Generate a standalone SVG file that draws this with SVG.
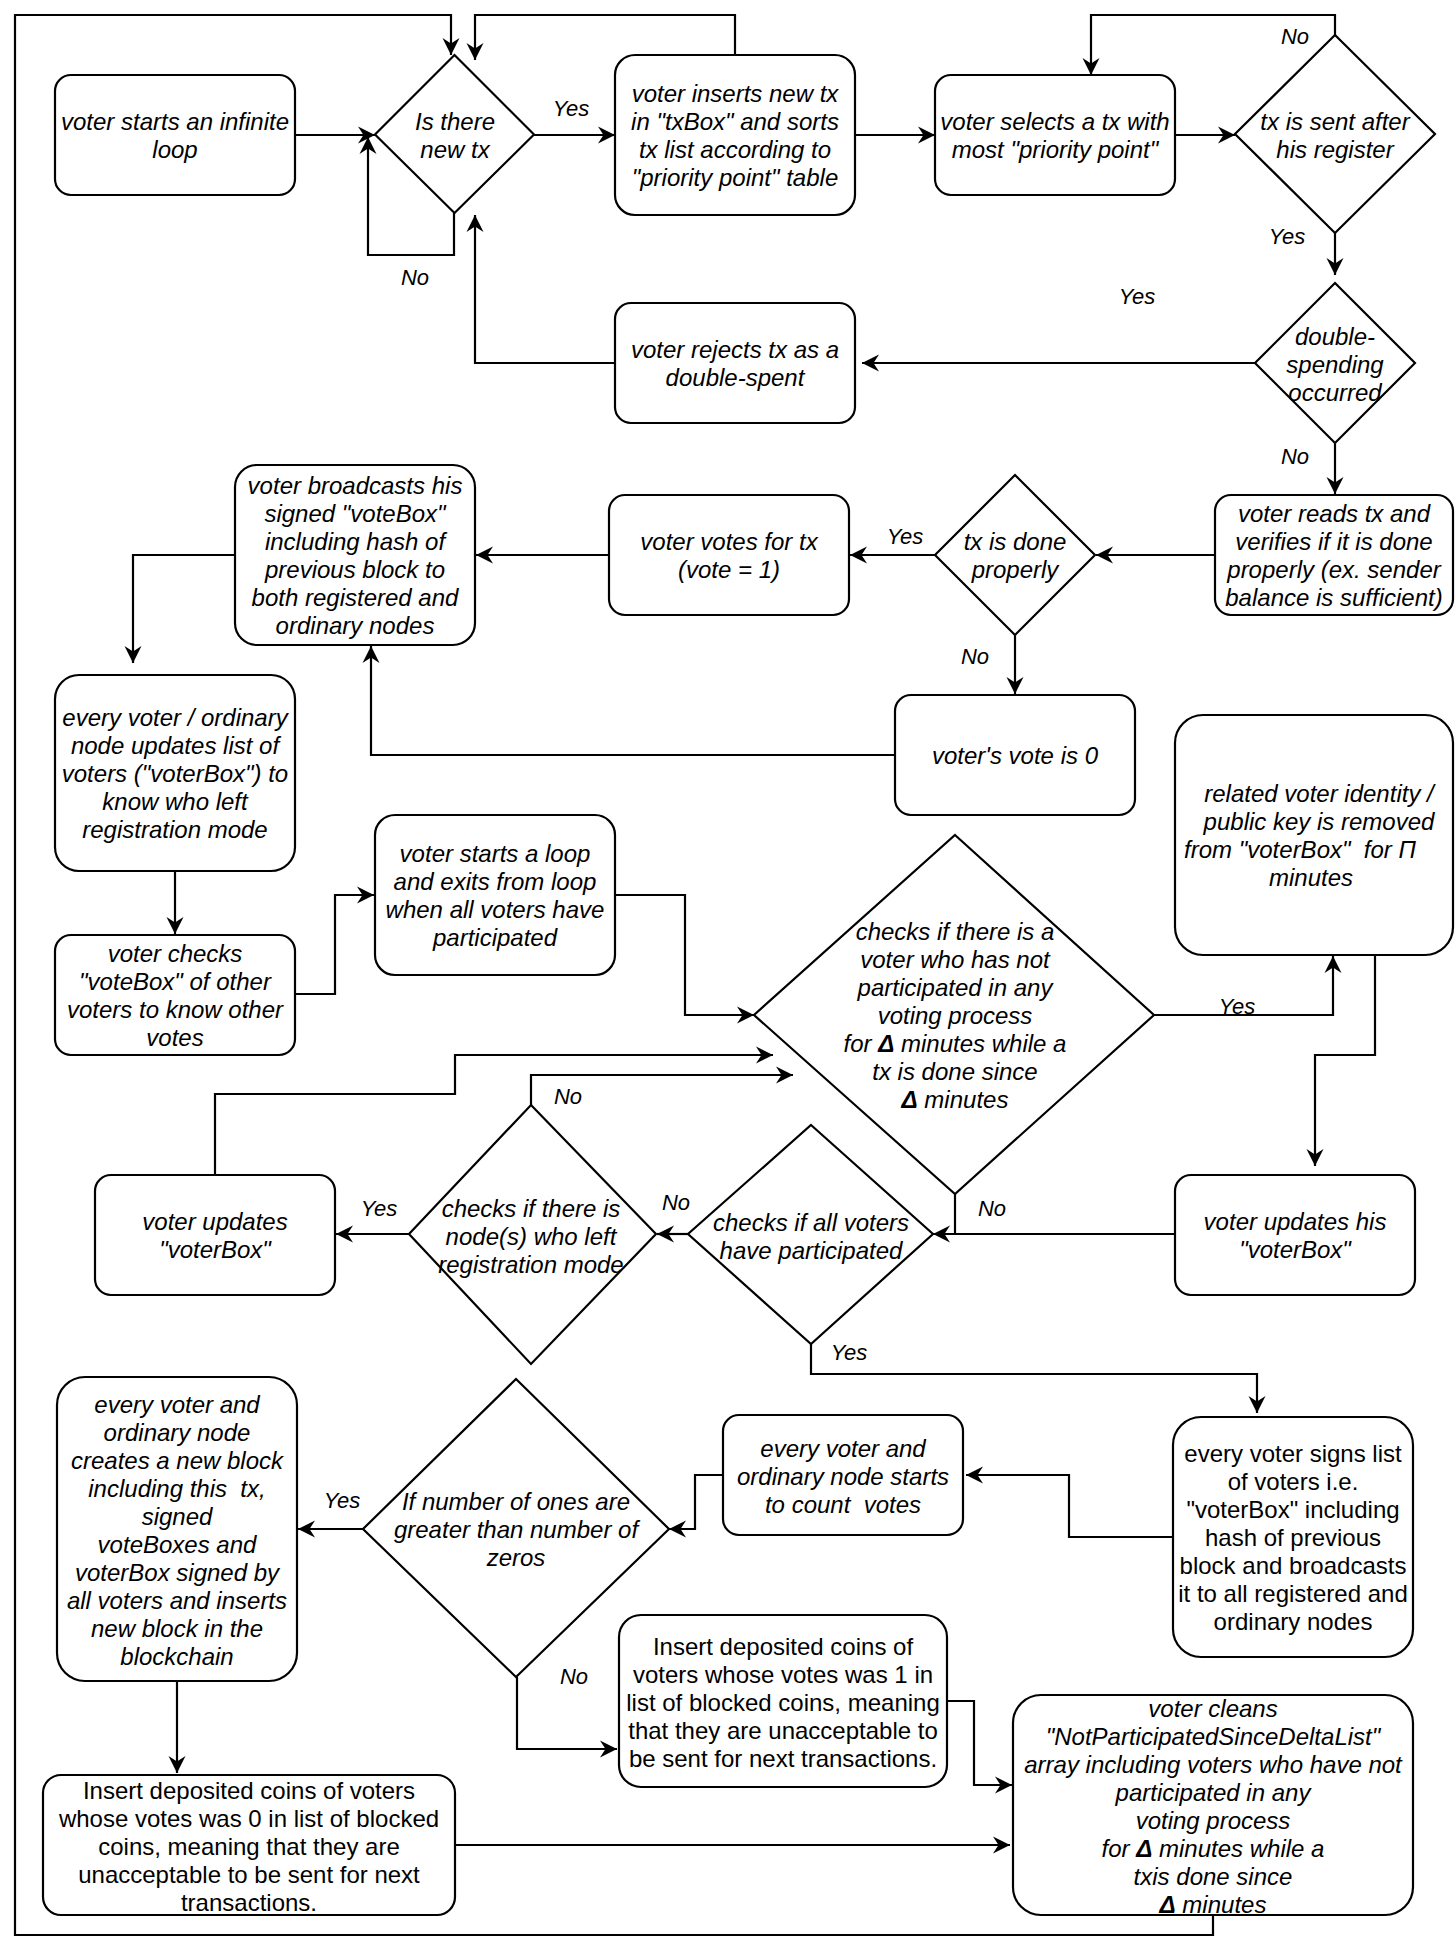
<svg xmlns="http://www.w3.org/2000/svg" width="1456" height="1952" viewBox="0 0 1456 1952">
<defs>
<style>
.b{fill:#fff;stroke:#000;stroke-width:2.2}
.c{fill:none;stroke:#000;stroke-width:2.2;marker-end:url(#arr)}
.p{fill:none;stroke:#000;stroke-width:2.2}
text{font-family:"Liberation Sans",Arial,Helvetica,sans-serif;font-size:24px;font-style:italic;text-anchor:middle;white-space:pre;fill:#000}
.n{font-style:normal}
.l{font-size:22px}
</style>
<marker id="arr" markerUnits="userSpaceOnUse" markerWidth="24" markerHeight="24" viewBox="-19 -12 24 24" refX="0" refY="0" orient="auto" overflow="visible">
<path d="M0,0 L-17,-8.5 L-11.5,0 L-17,8.5 Z" fill="#000"/>
</marker>
</defs>
<rect width="1456" height="1952" fill="#fff"/>

<g id="connectors">
<path class="c" d="M295,135 H375"/>
<path class="c" d="M454,213 V255 H368 V137"/>
<path class="c" d="M534,135 H615"/>
<path class="c" d="M735,55 V15 H475 V60"/>
<path class="c" d="M1213,1915 V1935 H15 V15 H451 V55"/>
<path class="c" d="M855,135 H935"/>
<path class="c" d="M1175,135 H1235"/>
<path class="c" d="M1335,35 V15 H1091 V75"/>
<path class="c" d="M1335,233 V275"/>
<path class="c" d="M1255,363 H862"/>
<path class="c" d="M615,363 H475 V215"/>
<path class="c" d="M1335,443 V494"/>
<path class="c" d="M1215,555 H1096"/>
<path class="c" d="M935,555 H850"/>
<path class="c" d="M1015,634 V694"/>
<path class="c" d="M609,555 H476"/>
<path class="c" d="M895,755 H371 V646"/>
<path class="c" d="M235,555 H133 V663"/>
<path class="c" d="M175,871 V934"/>
<path class="c" d="M295,994 H335 V895 H374"/>
<path class="c" d="M614,895 H685 V1015 H754"/>
<path class="c" d="M1154,1015 H1333 V956"/>
<path class="c" d="M1375,954 V1055 H1315 V1166"/>
<path class="c" d="M1175,1234 H933"/>
<path class="p" d="M955,1194 V1234"/>
<path class="c" d="M688,1234 H657"/>
<path class="c" d="M811,1344 V1374 H1257 V1413"/>
<path class="c" d="M409,1234 H336"/>
<path class="c" d="M531,1105 V1075 H793"/>
<path class="c" d="M215,1175 V1094 H455 V1055 H773"/>
<path class="c" d="M1173,1537 H1069 V1475 H966"/>
<path class="c" d="M723,1475 H695 V1529 H669"/>
<path class="c" d="M363,1529 H298"/>
<path class="c" d="M517,1677 V1749 H617"/>
<path class="c" d="M177,1681 V1773"/>
<path class="c" d="M455,1845 H1010"/>
<path class="c" d="M947,1701 H974 V1785 H1012"/>
</g>

<g id="labels">
<text class="l" x="415" y="285">No</text>
<text class="l" x="571" y="116">Yes</text>
<text class="l" x="1295" y="44">No</text>
<text class="l" x="1287" y="244">Yes</text>
<text class="l" x="1137" y="304">Yes</text>
<text class="l" x="1295" y="464">No</text>
<text class="l" x="905" y="544">Yes</text>
<text class="l" x="975" y="664">No</text>
<text class="l" x="1237" y="1014">Yes</text>
<text class="l" x="992" y="1216">No</text>
<text class="l" x="676" y="1210">No</text>
<text class="l" x="849" y="1360">Yes</text>
<text class="l" x="379" y="1216">Yes</text>
<text class="l" x="568" y="1104">No</text>
<text class="l" x="342" y="1508">Yes</text>
<text class="l" x="574" y="1684">No</text>
</g>

<g id="start">
<rect class="b" x="55" y="75" width="240" height="120" rx="16"/>
<text x="175" y="129.5">voter starts an infinite</text>
<text x="175" y="157.5">loop</text>
</g>

<g id="isThereNewTx">
<polygon class="b" points="454.5,55 534,134.5 454.5,213 375,134.5"/>
<text x="455" y="129.5">Is there</text>
<text x="455" y="157.5">new tx</text>
</g>

<g id="insertTx">
<rect class="b" x="615" y="55" width="240" height="160" rx="20"/>
<text x="735" y="101.5">voter inserts new tx</text>
<text x="735" y="129.5">in "txBox" and sorts</text>
<text x="735" y="157.5">tx list according to</text>
<text x="735" y="185.5">"priority point" table</text>
</g>

<g id="selectTx">
<rect class="b" x="935" y="75" width="240" height="120" rx="16"/>
<text x="1055" y="129.5">voter selects a tx with</text>
<text x="1055" y="157.5">most "priority point"</text>
</g>

<g id="txSentAfter">
<polygon class="b" points="1335,35 1435,134 1335,233 1235,134"/>
<text x="1335" y="129.5">tx is sent after</text>
<text x="1335" y="157.5">his register</text>
</g>

<g id="doubleSpending">
<polygon class="b" points="1335,283 1415,363 1335,443 1255,363"/>
<text x="1335" y="344.5">double-</text>
<text x="1335" y="372.5">spending</text>
<text x="1335" y="400.5">occurred</text>
</g>

<g id="rejectTx">
<rect class="b" x="615" y="303" width="240" height="120" rx="16"/>
<text x="735" y="357.5">voter rejects tx as a</text>
<text x="735" y="385.5">double-spent</text>
</g>

<g id="readsTx">
<rect class="b" x="1215" y="495" width="238" height="120" rx="16"/>
<text x="1334" y="521.5">voter reads tx and</text>
<text x="1334" y="549.5">verifies if it is done</text>
<text x="1334" y="577.5">properly (ex. sender</text>
<text x="1334" y="605.5">balance is sufficient)</text>
</g>

<g id="txDoneProperly">
<polygon class="b" points="1015,475 1095,555 1015,635 935,555"/>
<text x="1015" y="549.5">tx is done</text>
<text x="1015" y="577.5">properly</text>
</g>

<g id="votesForTx">
<rect class="b" x="609" y="495" width="240" height="120" rx="16"/>
<text x="729" y="549.5">voter votes for tx</text>
<text x="729" y="577.5">(vote = 1)</text>
</g>

<g id="voteZero">
<rect class="b" x="895" y="695" width="240" height="120" rx="16"/>
<text x="1015" y="763.5">voter's vote is 0</text>
</g>

<g id="broadcast">
<rect class="b" x="235" y="465" width="240" height="180" rx="22"/>
<text x="355" y="493.5">voter broadcasts his</text>
<text x="355" y="521.5">signed "voteBox"</text>
<text x="355" y="549.5">including hash of</text>
<text x="355" y="577.5">previous block to</text>
<text x="355" y="605.5">both registered and</text>
<text x="355" y="633.5">ordinary nodes</text>
</g>

<g id="updatesList">
<rect class="b" x="55" y="675" width="240" height="196" rx="24"/>
<text x="175" y="725.5">every voter / ordinary</text>
<text x="175" y="753.5">node updates list of</text>
<text x="175" y="781.5">voters ("voterBox") to</text>
<text x="175" y="809.5">know who left</text>
<text x="175" y="837.5">registration mode</text>
</g>

<g id="checksVoteBox">
<rect class="b" x="55" y="935" width="240" height="120" rx="16"/>
<text x="175" y="961.5">voter checks</text>
<text x="175" y="989.5">"voteBox" of other</text>
<text x="175" y="1017.5">voters to know other</text>
<text x="175" y="1045.5">votes</text>
</g>

<g id="startsLoop">
<rect class="b" x="375" y="815" width="240" height="160" rx="20"/>
<text x="495" y="861.5">voter starts a loop</text>
<text x="495" y="889.5">and exits from loop</text>
<text x="495" y="917.5">when all voters have</text>
<text x="495" y="945.5">participated</text>
</g>

<g id="checksNotParticipated">
<polygon class="b" points="955,835 1154,1015 955,1194 754,1015"/>
<text x="955" y="939.5">checks if there is a</text>
<text x="955" y="967.5">voter who has not</text>
<text x="955" y="995.5">participated in any</text>
<text x="955" y="1023.5">voting process</text>
<text x="955" y="1051.5">for <tspan font-weight="bold">Δ</tspan> minutes while a</text>
<text x="955" y="1079.5">tx is done since</text>
<text x="955" y="1107.5"><tspan font-weight="bold">Δ</tspan> minutes</text>
</g>

<g id="removeVoter">
<rect class="b" x="1175" y="715" width="278" height="240" rx="28"/>
<text x="1319" y="801.5">related voter identity /</text>
<text x="1319" y="829.5">public key is removed</text>
<text x="1300" y="857.5">from "voterBox"  for Π</text>
<text x="1311" y="885.5">minutes</text>
</g>

<g id="updatesHisVoterBox">
<rect class="b" x="1175" y="1175" width="240" height="120" rx="16"/>
<text x="1295" y="1229.5">voter updates his</text>
<text x="1295" y="1257.5">"voterBox"</text>
</g>

<g id="allParticipated">
<polygon class="b" points="811,1125 933,1234 811,1344 688,1234"/>
<text x="811" y="1230.5">checks if all voters</text>
<text x="811" y="1258.5">have participated</text>
</g>

<g id="nodesLeft">
<polygon class="b" points="531,1105 656,1234 531,1364 409,1234"/>
<text x="531" y="1216.5">checks if there is</text>
<text x="531" y="1244.5">node(s) who left</text>
<text x="531" y="1272.5">registration mode</text>
</g>

<g id="updatesVoterBox">
<rect class="b" x="95" y="1175" width="240" height="120" rx="16"/>
<text x="215" y="1229.5">voter updates</text>
<text x="215" y="1257.5">"voterBox"</text>
</g>

<g id="signsList">
<rect class="b" x="1173" y="1417" width="240" height="240" rx="28"/>
<text class="n" x="1293" y="1461.5">every voter signs list</text>
<text class="n" x="1293" y="1489.5">of voters i.e.</text>
<text class="n" x="1293" y="1517.5">"voterBox" including</text>
<text class="n" x="1293" y="1545.5">hash of previous</text>
<text class="n" x="1293" y="1573.5">block and broadcasts</text>
<text class="n" x="1293" y="1601.5">it to all registered and</text>
<text class="n" x="1293" y="1629.5">ordinary nodes</text>
</g>

<g id="countVotes">
<rect class="b" x="723" y="1415" width="240" height="120" rx="16"/>
<text x="843" y="1456.5">every voter and</text>
<text x="843" y="1484.5">ordinary node starts</text>
<text x="843" y="1512.5">to count  votes</text>
</g>

<g id="onesGreater">
<polygon class="b" points="516,1379 669,1529 516,1677 363,1529"/>
<text x="516" y="1510">If number of ones are</text>
<text x="516" y="1538">greater than number of</text>
<text x="516" y="1566">zeros</text>
</g>

<g id="createsBlock">
<rect class="b" x="57" y="1377" width="240" height="304" rx="28"/>
<text x="177" y="1412.5">every voter and</text>
<text x="177" y="1440.5">ordinary node</text>
<text x="177" y="1468.5">creates a new block</text>
<text x="177" y="1496.5">including this  tx,</text>
<text x="177" y="1524.5">signed</text>
<text x="177" y="1552.5">voteBoxes and</text>
<text x="177" y="1580.5">voterBox signed by</text>
<text x="177" y="1608.5">all voters and inserts</text>
<text x="177" y="1636.5">new block in the</text>
<text x="177" y="1664.5">blockchain</text>
</g>

<g id="blockZeroVoters">
<rect class="b" x="43" y="1775" width="412" height="140" rx="18"/>
<text class="n" x="249" y="1798.5">Insert deposited coins of voters</text>
<text class="n" x="249" y="1826.5">whose votes was 0 in list of blocked</text>
<text class="n" x="249" y="1854.5">coins, meaning that they are</text>
<text class="n" x="249" y="1882.5">unacceptable to be sent for next</text>
<text class="n" x="249" y="1910.5">transactions.</text>
</g>

<g id="blockOneVoters">
<rect class="b" x="619" y="1615" width="328" height="172" rx="22"/>
<text class="n" x="783" y="1654.5">Insert deposited coins of</text>
<text class="n" x="783" y="1682.5">voters whose votes was 1 in</text>
<text class="n" x="783" y="1710.5">list of blocked coins, meaning</text>
<text class="n" x="783" y="1738.5">that they are unacceptable to</text>
<text class="n" x="783" y="1766.5">be sent for next transactions.</text>
</g>

<g id="cleansList">
<rect class="b" x="1013" y="1695" width="400" height="220" rx="28"/>
<text x="1213" y="1716.5">voter cleans</text>
<text x="1213" y="1744.5">"NotParticipatedSinceDeltaList"</text>
<text x="1213" y="1772.5">array including voters who have not</text>
<text x="1213" y="1800.5">participated in any</text>
<text x="1213" y="1828.5">voting process</text>
<text x="1213" y="1856.5">for <tspan font-weight="bold">Δ</tspan> minutes while a</text>
<text x="1213" y="1884.5">txis done since</text>
<text x="1213" y="1912.5"><tspan font-weight="bold">Δ</tspan> minutes</text>
</g>
</svg>
